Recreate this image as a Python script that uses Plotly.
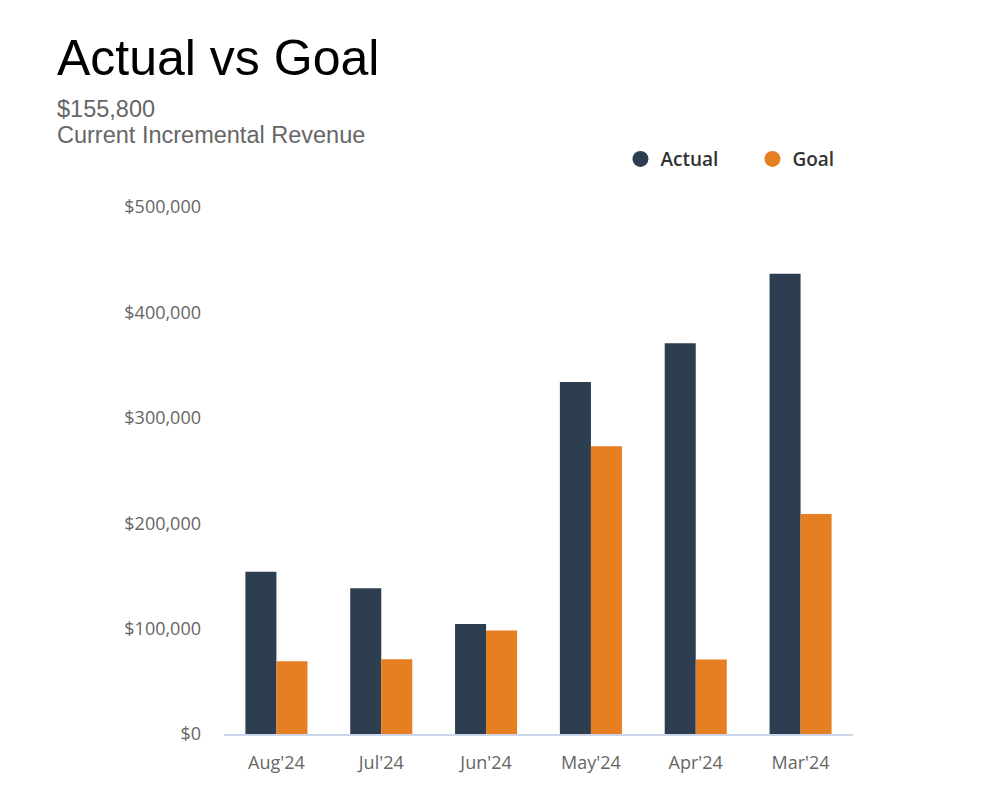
import plotly.graph_objects as go

months = ["Aug'24", "Jul'24", "Jun'24", "May'24", "Apr'24", "Mar'24"]
actual = [154000, 138400, 104400, 334000, 370700, 436600]
goal = [69000, 71000, 98300, 272900, 70700, 208700]

title_text = "Actual vs Goal"
headline_value = "$155,800"
headline_label = "Current Incremental Revenue"

navy = "#2d3e50"
orange = "#e67e22"
tick_font = dict(family="Open Sans", size=18, color="#666666")

# page has an 8px body margin, so the figure is sized to fit inside the window
W, H = 984, 783

fig = go.Figure()
fig.add_trace(go.Bar(x=months, y=actual, name="Actual", marker_color=navy,
                     marker_line_width=0, showlegend=False))
fig.add_trace(go.Bar(x=months, y=goal, name="Goal", marker_color=orange,
                     marker_line_width=0, showlegend=False))
# circle markers for the legend only
for nm, col in [("Actual", navy), ("Goal", orange)]:
    fig.add_trace(go.Scatter(x=[None], y=[None], mode="markers", name=nm,
                             marker=dict(color=col, size=16, symbol="circle")))

fig.update_layout(
    width=W, height=H,
    margin=dict(l=216, r=139, t=199, b=56.5),
    paper_bgcolor="white", plot_bgcolor="white",
    barmode="group", bargap=0.408, bargroupgap=0,
    title=dict(text=title_text, xref="container", x=49 / W, xanchor="left",
               yref="container", y=1 - 49 / H, yanchor="middle",
               font=dict(family="Liberation Sans, Arial", size=50, color="black")),
    legend=dict(orientation="h", xanchor="right", x=1.05, yanchor="middle", y=1.091,
                entrywidth=87,
                font=dict(family="Open Sans", size=19, color="#333333", weight=600),
                bgcolor="rgba(0,0,0,0)"),
    annotations=[
        dict(text=headline_value, xref="paper", yref="paper", x=-0.2687, y=1.1858,
             xanchor="left", yanchor="middle", showarrow=False,
             font=dict(family="Liberation Sans, Arial", size=23.5, color="#666666")),
        dict(text=headline_label, xref="paper", yref="paper", x=-0.2687, y=1.1365,
             xanchor="left", yanchor="middle", showarrow=False,
             font=dict(family="Liberation Sans, Arial", size=23.5, color="#666666")),
    ],
)
fig.update_xaxes(showline=True, linecolor="#ccd6eb", linewidth=1.5, showgrid=False,
                 ticks="", tickfont=tick_font, ticklabelstandoff=12)
fig.update_yaxes(range=[0, 500000], dtick=100000, tickprefix="$", tickformat=",.0f",
                 showgrid=False, zeroline=False, showline=False, ticks="",
                 tickfont=tick_font, ticklabelstandoff=22)

fig.write_html("out.html")
